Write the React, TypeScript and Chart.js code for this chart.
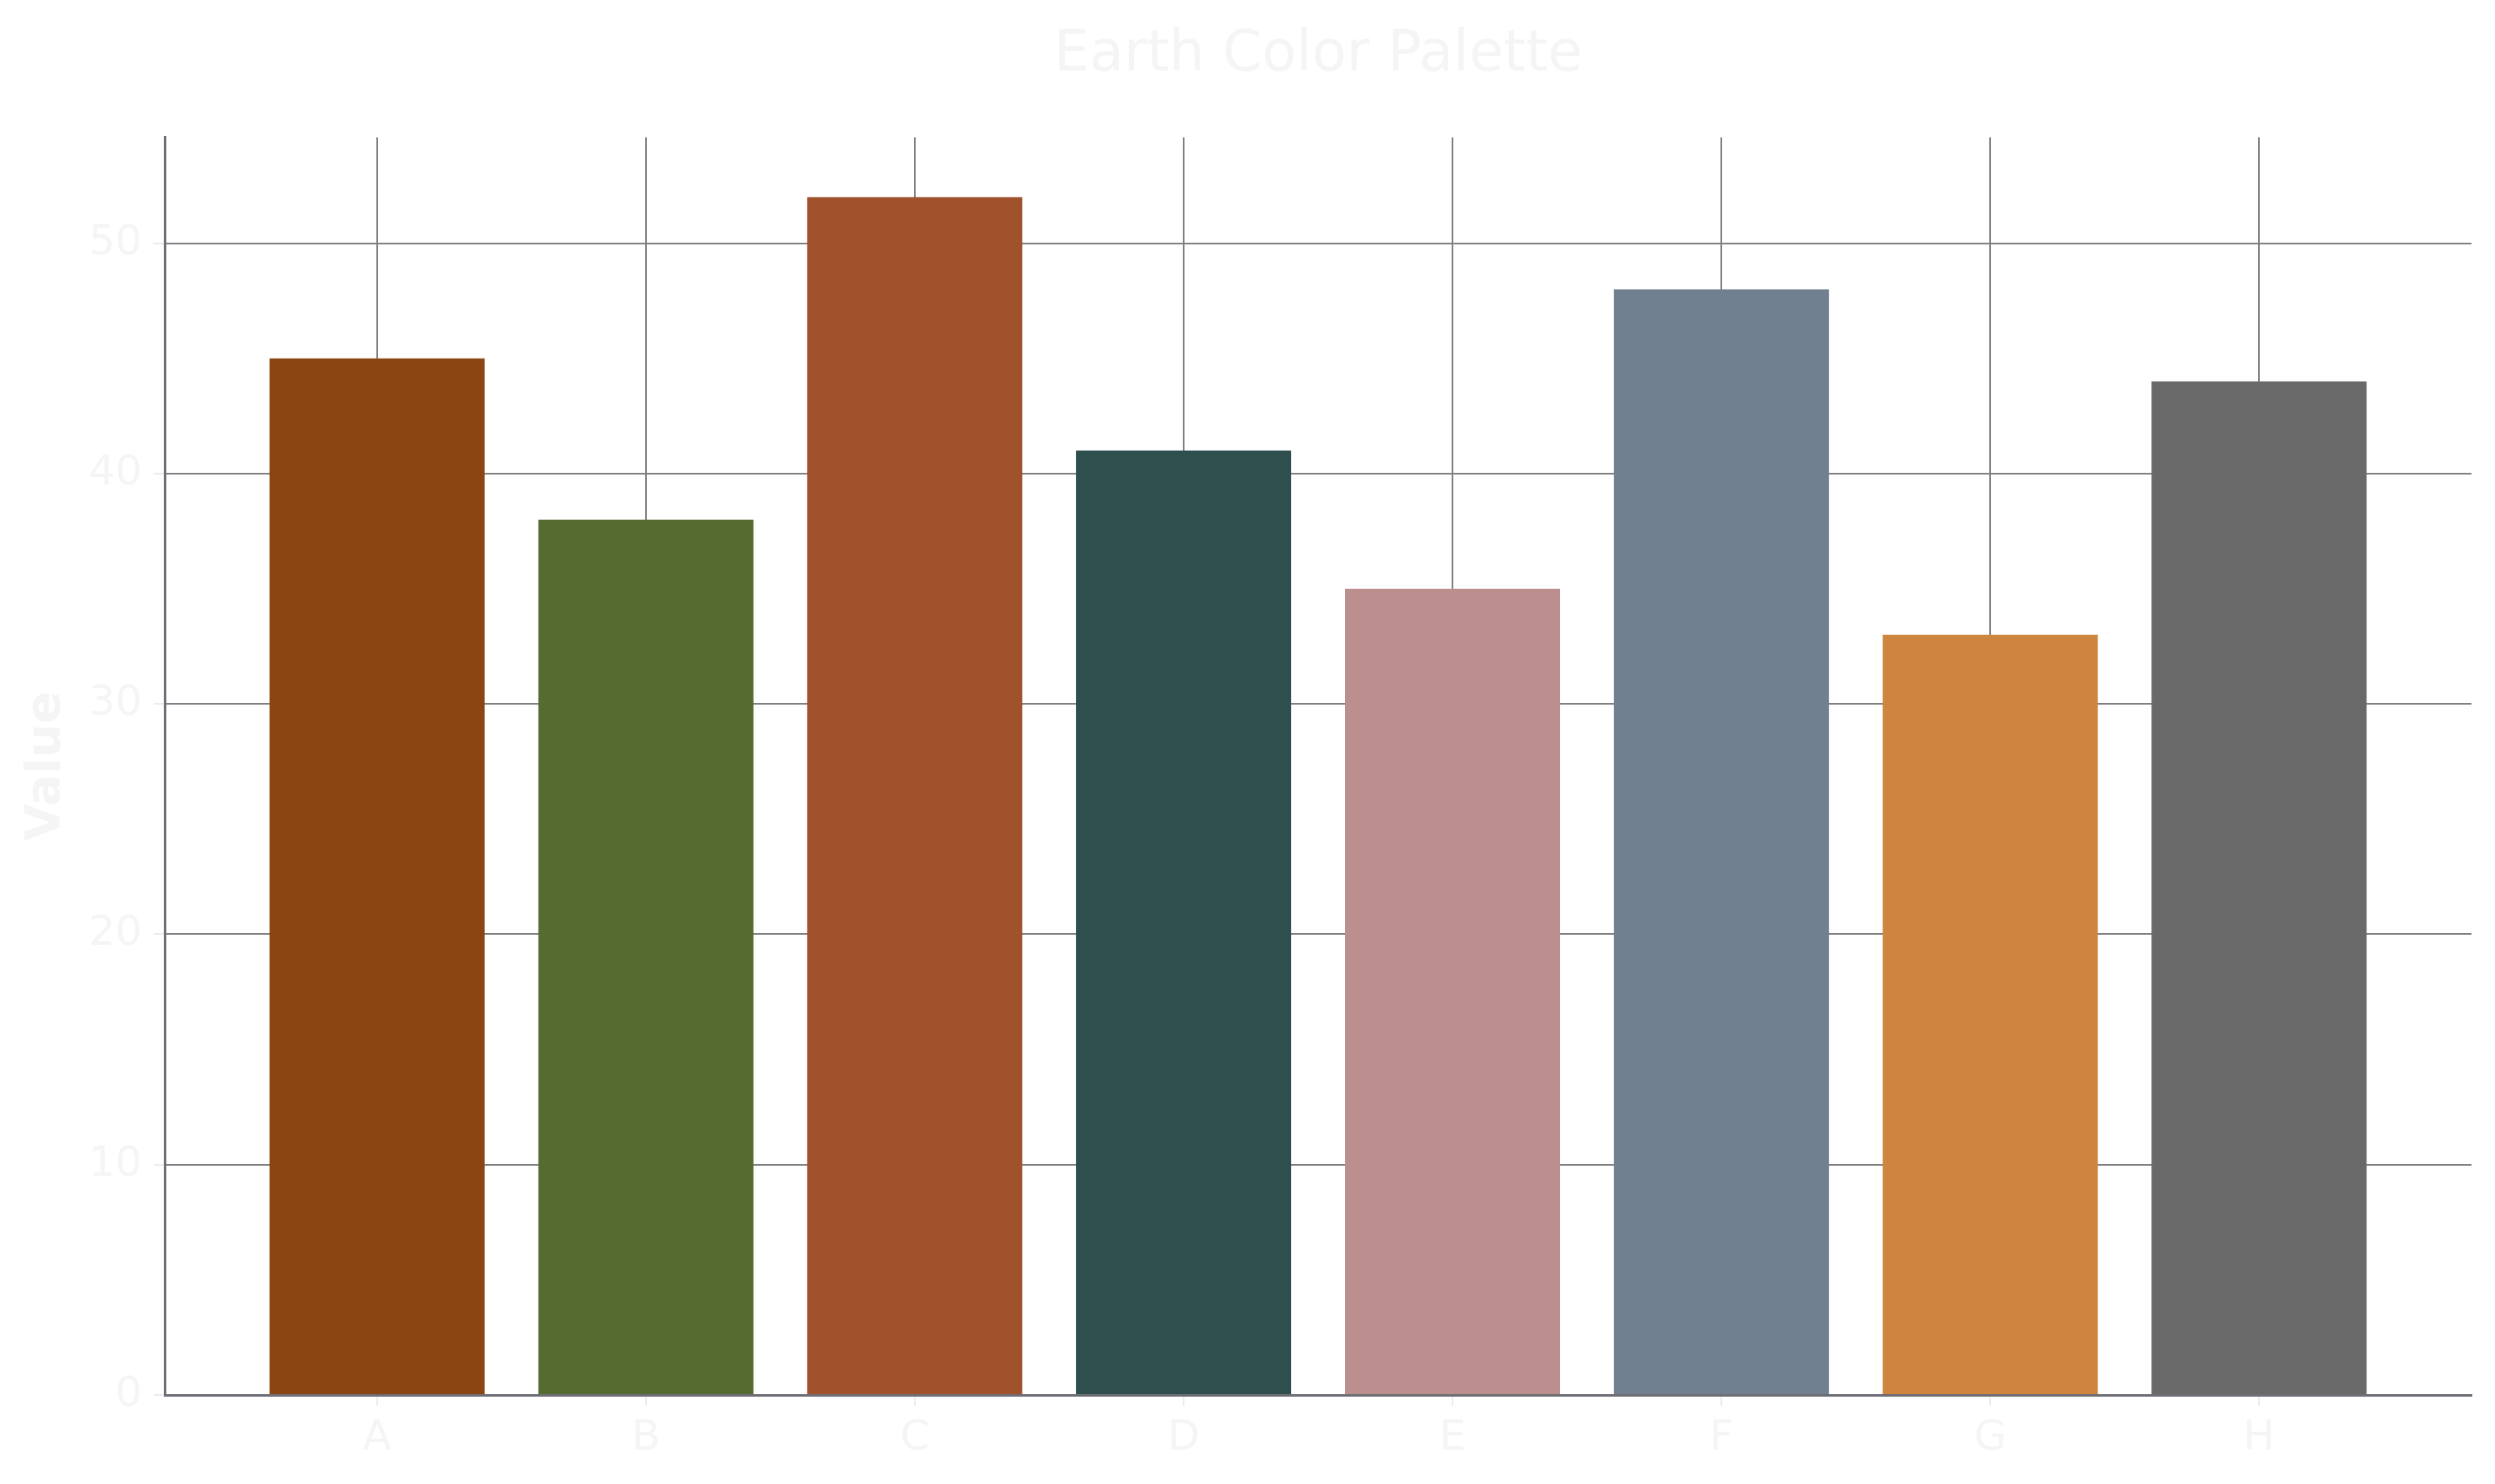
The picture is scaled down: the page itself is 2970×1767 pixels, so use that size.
import { useEffect, useRef } from "react";
import { Chart, registerables } from "chart.js";

Chart.register(...registerables);

const categories = ["A", "B", "C", "D", "E", "F", "G", "H"];
const values = [45, 38, 52, 41, 35, 48, 33, 44];
const barColors = [
  "#8B4513",
  "#556B2F",
  "#A0522D",
  "#2F4F4F",
  "#BC8F8F",
  "#708090",
  "#CD853F",
  "#696969",
];
const yTicks = [0, 10, 20, 30, 40, 50];

const FONT = "'DejaVu Sans', sans-serif";
const TEXT = "#f5f5f5";

export default function App() {
  const canvasRef = useRef<HTMLCanvasElement | null>(null);
  const chartRef = useRef<Chart | null>(null);

  useEffect(() => {
    if (!canvasRef.current) return;
    if (chartRef.current) chartRef.current.destroy();
    const ctx = canvasRef.current.getContext("2d");
    if (!ctx) return;

    chartRef.current = new Chart(ctx, {
      type: "bar",
      data: {
        datasets: [
          {
            label: "Value",
            data: values.map((v, i) => ({ x: i, y: v })),
            backgroundColor: barColors,
            borderWidth: 0,
            barPercentage: 0.8,
            categoryPercentage: 1.0,
          },
        ],
      },
      options: {
        animation: false,
        responsive: true,
        maintainAspectRatio: false,
        layout: { padding: { left: 0, right: 28, top: 0, bottom: 0 } },
        plugins: {
          legend: { display: false },
          tooltip: { enabled: false },
          title: {
            display: true,
            fullSize: false,
            text: "Earth Color Palette",
            color: TEXT,
            font: { family: FONT, size: 67, weight: "normal" },
            padding: { top: 26, bottom: 57 },
          },
        },
        scales: {
          x: {
            type: "linear",
            min: -0.79,
            max: 7.79,
            offset: false,
            afterBuildTicks: (scale: any) => {
              scale.ticks = categories.map((_, i) => ({ value: i }));
            },
            afterFit: (scale: any) => {
              scale.height = 106;
            },
            grid: {
              offset: false,
              color: "#808080",
              lineWidth: 2,
              drawTicks: true,
              tickLength: 13,
              tickColor: "#ececec",
              tickWidth: 2,
            },
            border: { display: true, color: "#6e6e76", width: 3, z: 1 },
            ticks: {
              color: TEXT,
              font: { family: FONT, size: 50 },
              padding: 9,
              maxRotation: 0,
              callback: (v: any) => categories[v] ?? "",
            },
          },
          y: {
            type: "linear",
            min: 0,
            max: 54.6,
            afterBuildTicks: (scale: any) => {
              scale.ticks = yTicks.map((v) => ({ value: v }));
            },
            afterFit: (scale: any) => {
              scale.width = 196;
            },
            grid: {
              color: "#808080",
              lineWidth: 2,
              drawTicks: true,
              tickLength: 13,
              tickColor: "#ececec",
              tickWidth: 2,
            },
            border: { display: true, color: "#6e6e76", width: 3, z: 1 },
            ticks: {
              color: TEXT,
              font: { family: FONT, size: 50 },
              padding: 14,
            },
            title: {
              display: true,
              text: "Value",
              color: TEXT,
              font: { family: FONT, size: 57, weight: "bold" },
              padding: { top: 22, bottom: 0 },
            },
          },
        },
      },
    });

    return () => {
      if (chartRef.current) {
        chartRef.current.destroy();
        chartRef.current = null;
      }
    };
  }, []);

  return (
    <div
      style={{
        position: "fixed",
        left: 0,
        top: 0,
        width: 2970,
        height: 1767,
        background: "#ffffff",
      }}
    >
      <canvas ref={canvasRef} />
    </div>
  );
}
